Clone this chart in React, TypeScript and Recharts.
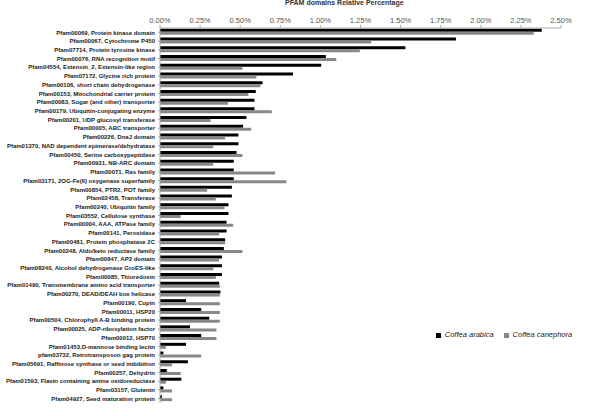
import { Bar, BarChart, Legend, XAxis, YAxis } from 'recharts';

const domains = [
  'Pfam00069, Protein kinase domain',
  'Pfam00067, Cytochrome P450',
  'Pfam07714, Protein tyrosine kinase',
  'Pfam00076, RNA recognition motif',
  'Pfam04554, Extensin_2, Extensin-like region',
  'Pfam07172, Glycine rich protein',
  'Pfam00106, short chain dehydrogenase',
  'Pfam00153, Mitochondrial carrier protein',
  'Pfam00083, Sugar (and other) transporter',
  'Pfam00179, Ubiquitin-conjugating enzyme',
  'Pfam00201, UDP glucosyl transferase',
  'Pfam00005,  ABC transporter',
  'Pfam00226, DnaJ domain',
  'Pfam01370, NAD dependent epimerase/dehydratase',
  'Pfam00450, Serine carboxypeptidase',
  'Pfam00931, NB-ARC domain',
  'Pfam00071, Ras family',
  'Pfam03171, 2OG-Fe(II) oxygenase superfamily',
  'Pfam00854, PTR2, POT family',
  'Pfam02458, Transferase',
  'Pfam00240, Ubiquitin family',
  'Pfam03552, Cellulose synthase',
  'Pfam00004, AAA, ATPase family',
  'Pfam00141, Peroxidase',
  'Pfam00481, Protein phosphatase 2C',
  'Pfam00248, Aldo/keto reductase family',
  'Pfam00847, AP2 domain',
  'Pfam08240, Alcohol dehydrogenase GroES-like',
  'Pfam00085, Thioredoxin',
  'Pfam01490, Transmembrane amino acid transporter',
  'Pfam00270, DEAD/DEAH box helicase',
  'Pfam00190, Cupin',
  'Pfam00011, HSP20',
  'Pfam00504, Chlorophyll A-B binding protein',
  'Pfam00025, ADP-ribosylation factor',
  'Pfam00012, HSP70',
  'Pfam01453,D-mannose binding lectin',
  'pfam03732, Retrotransposon gag protein',
  'Pfam05691, Raffinose synthase or seed imbibition',
  'Pfam00257,  Dehydrin',
  'Pfam01593, Flavin containing amine oxidoreductase',
  'Pfam03157, Glutenin',
  'Pfam04927,  Seed maturation protein',
];

// relative percentage (%)
const arabica = [
  2.38, 1.845, 1.53, 1.034, 1.005, 0.829, 0.639, 0.597, 0.589, 0.589, 0.539,
  0.518, 0.489, 0.489, 0.477, 0.46, 0.46, 0.46, 0.448, 0.448, 0.427, 0.427,
  0.415, 0.415, 0.406, 0.398, 0.386, 0.386, 0.386, 0.369, 0.377, 0.162, 0.257,
  0.307, 0.187, 0.257, 0.162, 0.021, 0.174, 0.042, 0.133, 0.021, 0.012,
];

const canephora = [
  2.33, 1.317, 1.246, 1.099, 0.514, 0.601, 0.626, 0.551, 0.423, 0.697, 0.315,
  0.568, 0.406, 0.332, 0.514, 0.332, 0.717, 0.788, 0.294, 0.348, 0.402, 0.129,
  0.456, 0.369, 0.406, 0.514, 0.369, 0.332, 0.348, 0.373, 0.373, 0.373, 0.373,
  0.373, 0.352, 0.352, 0.037, 0.257, 0.075, 0.129, 0.037, 0.075, 0.075,
];

const xTicks = [0, 0.25, 0.5, 0.75, 1, 1.25, 1.5, 1.75, 2, 2.25, 2.5];

const data = domains.map((name, i) => ({
  name,
  arabica: arabica[i],
  canephora: canephora[i],
}));

const font = '"Liberation Sans", Arial, sans-serif';

function DomainTick({ x, y, payload }: any) {
  return (
    <text
      x={x}
      y={y}
      dy={2.2}
      textAnchor='end'
      fill='#222'
      fontSize={6}
      fontWeight='bold'
      fontFamily={font}
    >
      {payload.value}
    </text>
  );
}

export default function App() {
  return (
    <div style={{ position: 'absolute', left: 0, top: 0, width: 600, height: 416, background: '#fff', fontFamily: font }}>
      <div
        style={{
          position: 'absolute',
          left: 285,
          top: -1,
          fontSize: 7,
          fontWeight: 'bold',
          color: '#333',
          whiteSpace: 'nowrap',
        }}
      >
        PFAM domains Relative Percentage
      </div>
      <BarChart
        width={600}
        height={416}
        data={data}
        layout='vertical'
        margin={{ top: 0, right: 39, bottom: 4, left: 0 }}
        barCategoryGap='10%'
        barGap={0}
      >
        <XAxis
          type='number'
          orientation='top'
          domain={[0, 2.5]}
          ticks={xTicks}
          height={28}
          tickFormatter={(v: number) => v.toFixed(2) + '%'}
          tick={{ fill: '#555', fontSize: 7.5, fontFamily: font }}
          tickSize={3}
          tickMargin={2}
          stroke='#aaa'
        />
        <YAxis
          type='category'
          dataKey='name'
          width={160}
          interval={0}
          tickSize={2}
          tickMargin={3}
          stroke='#aaa'
          tick={<DomainTick />}
        />
        <Legend
          layout='horizontal'
          iconType='square'
          iconSize={5}
          wrapperStyle={{ position: 'absolute', left: 434, top: 330, width: 150, fontSize: 7.5, fontStyle: 'italic' }}
          formatter={(value: string) => <span style={{ color: '#222' }}>{value}</span>}
        />
        <Bar dataKey='arabica' name='Coffea arabica' fill='#000' isAnimationActive={false} />
        <Bar dataKey='canephora' name='Coffea canephora' fill='#888' isAnimationActive={false} />
      </BarChart>
    </div>
  );
}
